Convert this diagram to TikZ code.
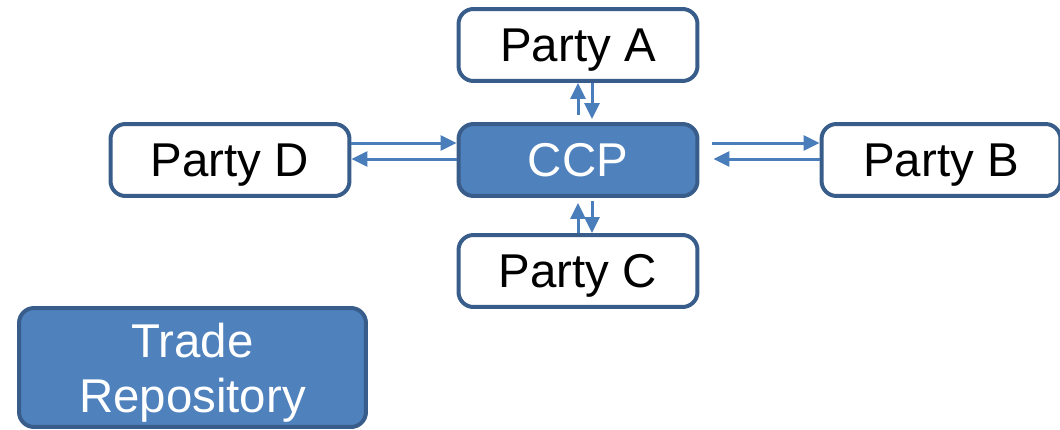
\documentclass[tikz,border=0pt]{standalone}
\usepackage{fontspec}
\setmainfont{Liberation Sans}
\usetikzlibrary{arrows.meta}
\definecolor{edgec}{RGB}{56,93,138}
\definecolor{hubc}{RGB}{79,129,189}
\definecolor{flowc}{RGB}{74,126,187}

\begin{document}
\begin{tikzpicture}[x=0.02cm,y=-0.02cm,
  box/.style={draw=edgec,line width=0.08cm,rounded corners=0.3cm,fill=white,
    minimum width=4.78cm,minimum height=1.44cm,inner sep=0pt,text depth=0pt,
    font=\fontsize{27}{31.4}\selectfont},
  hub/.style={box,fill=hubc,text=white},
  flow/.style={flowc,line width=0.06cm,-{Triangle[length=0.32cm,width=0.3cm]}}]
\useasboundingbox (0,0) rectangle (1060,429);
\foreach \n/\t/\x/\y in {a/A/578/45,b/B/941/160,c/C/578/271,d/D/230/160} {
  \node[box] (\n) at (\x,\y) {Party \t};
}
\node[hub] (ccp) at (578,160) {CCP};
\node[hub,minimum width=6.94cm,minimum height=2.38cm,align=center] (tr) at (192.5,367.5) {Trade\\Repository};
% party D
\draw[flow] ([yshift=0.34cm]d.east) -- ([yshift=0.34cm]ccp.west);
\draw[flow] ([yshift=0.02cm]ccp.west) -- ([yshift=0.02cm]d.east);
% party B
\draw[flow] ([xshift=0.26cm,yshift=0.34cm]ccp.east) -- ([yshift=0.34cm]b.west);
\draw[flow] ([yshift=0.02cm]b.west) -- ([xshift=0.28cm,yshift=0.02cm]ccp.east);
% party A
\draw[flow] ([yshift=0.14cm]ccp.north) -- (a.south);
\draw[flow] ([xshift=0.28cm]a.south) -- ([xshift=0.28cm,yshift=0.06cm]ccp.north);
% party C
\draw[flow] (c.north) -- ([yshift=-0.1cm]ccp.south);
\draw[flow] ([xshift=0.28cm,yshift=-0.06cm]ccp.south) -- ([xshift=0.28cm]c.north);
\end{tikzpicture}
\end{document}
